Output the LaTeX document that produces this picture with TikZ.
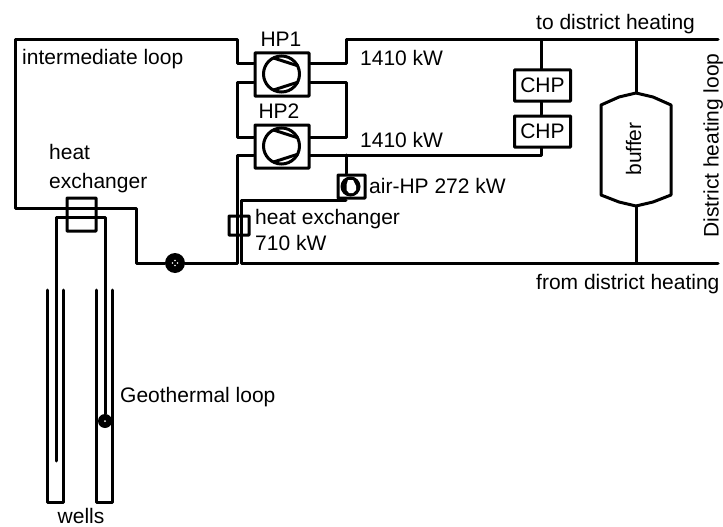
\documentclass[tikz,border=0pt]{standalone}
\usepackage{fontspec}
\setmainfont{Liberation Sans}
\usetikzlibrary{calc}
\tikzset{
  pipe/.style={line width=3pt,line join=round,line cap=round},
  box/.style={draw,line width=3pt,inner sep=0pt,minimum width=#1,rounded corners=0.4pt},
  hpbox/.style={box=54pt,minimum height=43pt},
  chpbox/.style={box=56pt,minimum height=31pt,font=\fontsize{21}{23}\selectfont},
  lbl/.style={inner sep=0pt,font=\fontsize{21}{23}\selectfont},
  comp/.style={circle,draw,line width=3pt,inner sep=0pt,minimum size=36pt},
  chord/.style={line width=3pt}
}
\begin{document}
\begin{tikzpicture}[x=1pt,y=-1pt]
\useasboundingbox (0,0) rectangle (723,527);
% coordinates
\coordinate (tl) at (15,40);
\coordinate (topA) at (237,40);
\coordinate (topB) at (346,40);
\coordinate (topC) at (541,40);
\coordinate (topD) at (636,40);
\coordinate (topE) at (718,40);
\coordinate (bl) at (15,208);
\coordinate (elb) at (136,208);
\coordinate (elc) at (136,263);
\coordinate (botA) at (237,263);
\coordinate (botB) at (241,263);
\coordinate (botD) at (636,263);
\coordinate (botE) at (718,263);
% components
\node[hpbox] (hp1) at (282,74.5) {};
\node[hpbox] (hp2) at (282,146.5) {};
\node[chpbox] (chp1) at (542.5,85.5) {CHP};
\node[chpbox] (chp2) at (542.5,131.5) {CHP};
\node[box=27pt,minimum height=23pt] (air) at (351.5,186.5) {};
\node[box=29pt,minimum height=33pt] (hxl) at (81.5,214.5) {};
\node[box=20pt,minimum height=19pt] (hxs) at (239,225.5) {};
\node[circle,fill=black,inner sep=0pt,minimum size=20pt] (pump) at (175,263) {};
\node[circle,fill=black,inner sep=0pt,minimum size=14pt] (wpump) at (105,421) {};
\fill[white] (wpump.center) circle (1pt);
\foreach \dx/\dy in {-2.5/0,2.5/0,0/-2.5,0/2.5} \fill[white] ($(pump.center)+(\dx,\dy)$) circle (0.8pt);
% buffer
\node[inner sep=0pt,minimum width=70pt,minimum height=112pt] (buffer) at (636,149) {};
\draw[pipe] (601,105) -- (619,97) -- (636,93) -- (653,97) -- (671,105) -- (671,195) -- (653,202) -- (636,206) -- (619,202) -- (601,195) -- cycle;
% main lines
\draw[pipe] (hp1.west |- 0,64) -- (237,64) -- (topA) -- (tl) -- (bl) -- (elb) -- (elc) -- (pump);
\draw[pipe] (pump) -- (botA) -- (237,155) -- (hp2.west |- 0,155);
\draw[pipe] (hp1.east |- 0,64) -- (346,64) -- (topB) -- (topE);
\draw[pipe] (hp1.west |- 0,83) -- (237,83) -- (237,137) -- (hp2.west |- 0,137);
\draw[pipe] (hp1.east |- 0,83) -- (346,83) -- (346,137) -- (hp2.east |- 0,137);
\draw[pipe] (hp2.east |- 0,155) -- (541,155) -- (chp2.south -| 541,0);
\draw[pipe] (topC) -- (chp1.north -| 541,0);
\draw[pipe] (chp1.south -| 541,0) -- (chp2.north -| 541,0);
\draw[pipe] (topD) -- (636,93);
\draw[pipe] (636,206) -- (botD);
\draw[pipe] (346,155) -- (air.north -| 346,0);
\draw[pipe] (346,200) -- (241,200) -- (botB) -- (botE);
% geothermal
\draw[pipe] (56,461) -- (56,217) -- (105,217) -- (wpump);
\draw[pipe] (47,290) -- (47,502) -- (63,502) -- (63,290);
\draw[pipe] (96,290) -- (96,502) -- (112,502) -- (112,290);
% compressor symbols
\node[comp] (c1) at (281.5,74) {};
\draw[chord] ($(c1.center)+(-8,-16)$) -- ($(c1.center)+(17,-8)$) ($(c1.center)+(-8,16)$) -- ($(c1.center)+(17,8)$);
\node[comp] (c2) at (281.5,146) {};
\draw[chord] ($(c2.center)+(-8,-16)$) -- ($(c2.center)+(17,-8)$) ($(c2.center)+(-8,16)$) -- ($(c2.center)+(17,8)$);
\node[circle,fill=black,inner sep=0pt,minimum size=20pt] (c3) at (350.5,186.5) {};
\fill[white] (348,180) -- (353,180) -- (356,186) -- (356,190) -- (353,193) -- (349,193) -- (346.5,190) -- (346.5,185) -- cycle;
% labels
\node[lbl,anchor=base west] (t1) at (22,64.5) {intermediate loop};
\node[lbl,anchor=base] (t2) at (281,47) {HP1};
\node[lbl,anchor=base] (t3) at (279,118.5) {HP2};
\node[lbl,anchor=base west] (t4) at (360,65.5) {1410 kW};
\node[lbl,anchor=base west] (t5) at (360,147) {1410 kW};
\node[lbl,anchor=base west] (t6) at (369,193) {air-HP 272 kW};
\node[lbl,anchor=base west] (t7) at (255,224) {heat exchanger};
\node[lbl,anchor=base west] (t8) at (255,250) {710 kW};
\node[lbl,anchor=base west] (t9) at (49,159) {heat};
\node[lbl,anchor=base west] (t10) at (49,188) {exchanger};
\node[lbl,anchor=base west] (t11) at (120,402) {Geothermal loop};
\node[lbl,anchor=base] (t12) at (81,523.5) {wells};
\node[lbl,anchor=base west] (t13) at (536,30) {to district heating};
\node[lbl,anchor=base west] (t14) at (536,289) {from district heating};
\node[lbl,anchor=base,rotate=90] (t15) at (641,149) {buffer};
\node[lbl,anchor=base west,rotate=90] (t16) at (718.5,238) {District heating loop};
\end{tikzpicture}
\end{document}
